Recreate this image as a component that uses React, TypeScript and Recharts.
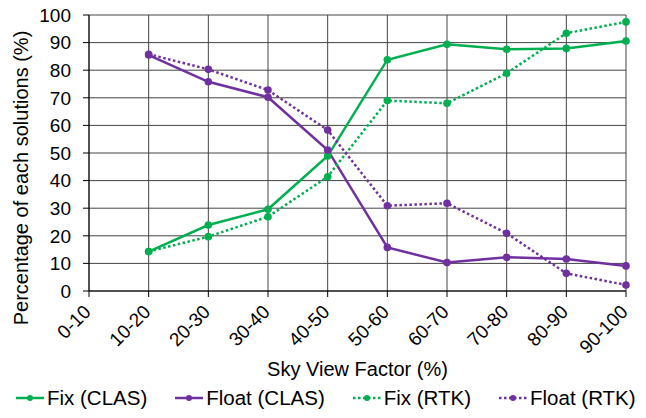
import { LineChart, Line, XAxis, YAxis, CartesianGrid, Legend } from "recharts"

// ─── Data ──────────────────────────────────────────────────────────────────────

const categories = ["0-10", "10-20", "20-30", "30-40", "40-50", "50-60", "60-70", "70-80", "80-90", "90-100"]
const fixClas = [null, 14.3, 23.9, 29.6, 48.9, 83.8, 89.4, 87.6, 87.9, 90.6]
const floatClas = [null, 85.5, 75.8, 70.2, 51.1, 15.8, 10.3, 12.2, 11.6, 9.1]
const fixRtk = [null, 14.3, 19.7, 26.9, 41.4, 69.0, 68.0, 78.9, 93.4, 97.5]
const floatRtk = [null, 85.8, 80.3, 72.8, 58.3, 30.9, 31.8, 20.9, 6.4, 2.2]
const yTicks = [0, 10, 20, 30, 40, 50, 60, 70, 80, 90, 100]

const data = categories.map((cat, i) => ({
  cat,
  fixClas: fixClas[i],
  floatClas: floatClas[i],
  fixRtk: fixRtk[i],
  floatRtk: floatRtk[i],
}))

const GREEN = "#00b050"
const PURPLE = "#7030a0"
const FONT = "'Liberation Sans', Arial, sans-serif"

const series = [
  { key: "fixClas", name: "Fix (CLAS)", color: GREEN, dash: undefined },
  { key: "floatClas", name: "Float (CLAS)", color: PURPLE, dash: undefined },
  { key: "fixRtk", name: "Fix (RTK)", color: GREEN, dash: "2.5 2.5" },
  { key: "floatRtk", name: "Float (RTK)", color: PURPLE, dash: "2.5 2.5" },
]

// ─── Pieces ────────────────────────────────────────────────────────────────────

function XTick({ x, y, payload }: { x?: number; y?: number; payload?: { value: string } }) {
  const ax = (x ?? 0) + 3
  const ay = (y ?? 0) + 14
  return (
    <text
      x={ax}
      y={ay}
      transform={`rotate(-45, ${ax}, ${ay})`}
      textAnchor="end"
      fontSize={19}
      fontFamily={FONT}
      fill="#000"
    >
      {payload?.value}
    </text>
  )
}

function LegendContent() {
  return (
    <div style={{ display: "flex", alignItems: "center", height: 24, paddingLeft: 16, gap: 28, fontFamily: FONT, fontSize: 20.5, color: "#000", whiteSpace: "nowrap" }}>
      {series.map(s => (
        <div key={s.key} style={{ display: "flex", alignItems: "center", gap: 3, flexShrink: 0 }}>
          <svg width={28} height={10}>
            <line x1={0} y1={5} x2={28} y2={5} stroke={s.color} strokeWidth={2.5} strokeDasharray={s.dash} />
            <circle cx={14} cy={5} r={3} fill={s.color} />
          </svg>
          <span>{s.name}</span>
        </div>
      ))}
    </div>
  )
}

// ─── Chart ─────────────────────────────────────────────────────────────────────

export default function App() {
  const dotStyle = (c: string) => ({ r: 3.8, fill: c, stroke: c, strokeWidth: 0 })
  return (
    <div style={{ position: "absolute", left: 0, top: 0, width: 646, height: 418, background: "#fff" }}>
      <LineChart width={646} height={418} data={data} margin={{ top: 15, right: 20, left: 19, bottom: 0 }}>
        <CartesianGrid stroke="#444" strokeWidth={1} />
        <XAxis
          dataKey="cat"
          scale="point"
          padding={{ left: 0, right: 0 }}
          height={103}
          interval={0}
          tick={<XTick />}
          tickSize={6}
          tickMargin={2}
          axisLine={{ stroke: "#000" }}
          tickLine={{ stroke: "#000" }}
          label={{ value: "Sky View Factor (%)", position: "insideBottom", offset: 18, fontSize: 20, fontFamily: FONT, fill: "#000" }}
        />
        <YAxis
          domain={[0, 100]}
          ticks={yTicks}
          width={70}
          tickSize={6}
          tickMargin={12}
          tick={{ fontSize: 19, fontFamily: FONT, fill: "#000" }}
          axisLine={{ stroke: "#000" }}
          tickLine={{ stroke: "#000" }}
          label={({ viewBox }: { viewBox?: { x: number; y: number; width: number; height: number } }) => {
            const vx = (viewBox?.x ?? 0) + 2
            const vy = (viewBox?.y ?? 0) + (viewBox?.height ?? 0) / 2 + 25
            return (
              <text x={vx} y={vy} transform={`rotate(-90, ${vx}, ${vy})`} textAnchor="middle" dominantBaseline="central" fontSize={20} fontFamily={FONT} fill="#000">
                Percentage of each solutions (%)
              </text>
            )
          }}
        />
        <Legend verticalAlign="bottom" content={<LegendContent />} wrapperStyle={{ bottom: 8, left: 0, width: 646 }} />
        {series.map(s => (
          <Line
            key={s.key}
            type="linear"
            dataKey={s.key}
            name={s.name}
            stroke={s.color}
            strokeWidth={2.5}
            strokeDasharray={s.dash}
            dot={dotStyle(s.color)}
            activeDot={false}
            isAnimationActive={false}
          />
        ))}
      </LineChart>
    </div>
  )
}
